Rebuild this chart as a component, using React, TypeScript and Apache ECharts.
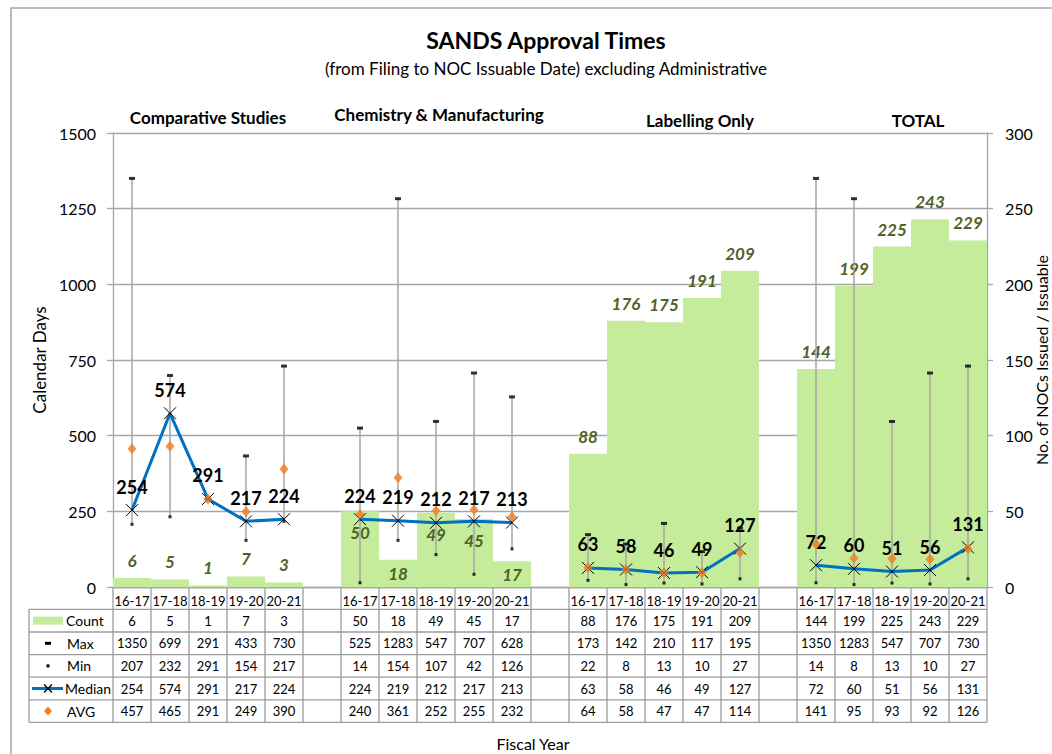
import React, { useEffect, useRef } from 'react';
import * as echarts from 'echarts';

// ---------- data ----------
const FISCAL_YEARS = ['16-17', '17-18', '18-19', '19-20', '20-21'];
const GROUP_NAMES = ['Comparative Studies', 'Chemistry & Manufacturing', 'Labelling Only', 'TOTAL'];

const COUNT_CS = [6, 5, 1, 7, 3];
const COUNT_CM = [50, 18, 49, 45, 17];
const COUNT_LO = [88, 176, 175, 191, 209];
const COUNT_TOT = [144, 199, 225, 243, 229];

const MAX_CS = [1350, 699, 291, 433, 730];
const MAX_CM = [525, 1283, 547, 707, 628];
const MAX_LO = [173, 142, 210, 117, 195];
const MAX_TOT = [1350, 1283, 547, 707, 730];

const MIN_CS = [207, 232, 291, 154, 217];
const MIN_CM = [14, 154, 107, 42, 126];
const MIN_LO = [22, 8, 13, 10, 27];
const MIN_TOT = [14, 8, 13, 10, 27];

const MEDIAN_CS = [254, 574, 291, 217, 224];
const MEDIAN_CM = [224, 219, 212, 217, 213];
const MEDIAN_LO = [63, 58, 46, 49, 127];
const MEDIAN_TOT = [72, 60, 51, 56, 131];

const AVG_CS = [457, 465, 291, 249, 390];
const AVG_CM = [240, 361, 252, 255, 232];
const AVG_LO = [64, 58, 47, 47, 114];
const AVG_TOT = [141, 95, 93, 92, 126];

const LEFT_AXIS = { min: 0, max: 1500, interval: 250 };
const RIGHT_AXIS = { min: 0, max: 300, interval: 50 };

// ---------- helpers ----------
function joinGroups<T>(groups: T[][]): (T | null)[] {
  const out: (T | null)[] = [];
  groups.forEach((g, gi) => {
    if (gi > 0) out.push(null);
    g.forEach((v) => out.push(v));
  });
  return out;
}

const CATEGORIES = joinGroups([FISCAL_YEARS, FISCAL_YEARS, FISCAL_YEARS, FISCAL_YEARS]).map((c) => (c == null ? '' : c));
const COUNT = joinGroups([COUNT_CS, COUNT_CM, COUNT_LO, COUNT_TOT]);
const MAX = joinGroups([MAX_CS, MAX_CM, MAX_LO, MAX_TOT]);
const MIN = joinGroups([MIN_CS, MIN_CM, MIN_LO, MIN_TOT]);
const MEDIAN = joinGroups([MEDIAN_CS, MEDIAN_CM, MEDIAN_LO, MEDIAN_TOT]);
const AVG = joinGroups([AVG_CS, AVG_CM, AVG_LO, AVG_TOT]);

// ---------- layout / style ----------
const FONT = 'Lato, "Open Sans", sans-serif';
const GL = 113;
const GT = 133;
const GW = 874;
const GH = 454;
const NC = CATEGORIES.length;
const CW = GW / NC;
const GRID_LINE = '#A6A6A6';
const TABLE_LINE = '#9C9C9C';
const BAR_COLOR = '#C4EC9B';
const COUNT_LABEL = '#4F6228';
const MEDIAN_COLOR = '#0070C0';
const AVG_COLOR = '#F07D22';
const ROW_TOPS = [609.3, 632, 654.6, 677.2, 699.8, 722.4];
const HEADER_TOP = GT + GH;
const LEG_LEFT = 29;

function txt(text: string, x: number, y: number, font: string, align = 'center', fill = '#000') {
  return {
    type: 'text',
    x,
    y,
    silent: true,
    style: { text, font, fill, align, verticalAlign: 'middle' },
  };
}

function buildOption() {
  const graphics: any[] = [];

  // outer border
  graphics.push({
    type: 'rect',
    shape: { x: 11, y: 8, width: 1100, height: 800 },
    style: { fill: 'none', stroke: '#A6A6A6', lineWidth: 1.5 },
    silent: true,
  });

  // titles
  graphics.push(txt('SANDS Approval Times', 546, 40, `bold 23px ${FONT}`));
  graphics.push(txt('(from Filing to NOC Issuable Date) excluding Administrative', 546, 68, `17px ${FONT}`));

  // group headers
  const groupPos = [
    [208, 117],
    [439, 114],
    [700, 120],
    [918, 120],
  ];
  GROUP_NAMES.forEach((g, i) => graphics.push(txt(g, groupPos[i][0], groupPos[i][1], `bold 17px ${FONT}`)));

  // axis titles drawn as text
  graphics.push(txt('Fiscal Year', 533, 743, `16px ${FONT}`));
  graphics.push({
    ...txt('No. of NOCs Issued / Issuable', 1041, GT + GH / 2, `16px ${FONT}`),
    rotation: Math.PI / 2,
  });

  // table lines
  const tableRight = GL + GW;
  ROW_TOPS.forEach((y) => {
    graphics.push({
      type: 'line',
      silent: true,
      shape: { x1: LEG_LEFT, y1: y, x2: tableRight, y2: y },
      style: { stroke: TABLE_LINE, lineWidth: 1.3 },
    });
  });
  graphics.push({
    type: 'line',
    silent: true,
    shape: { x1: LEG_LEFT, y1: ROW_TOPS[0], x2: LEG_LEFT, y2: ROW_TOPS[5] },
    style: { stroke: TABLE_LINE, lineWidth: 1.3 },
  });
  for (let i = 0; i <= NC; i++) {
    const x = GL + i * CW;
    graphics.push({
      type: 'line',
      silent: true,
      shape: { x1: x, y1: HEADER_TOP, x2: x, y2: ROW_TOPS[5] },
      style: { stroke: TABLE_LINE, lineWidth: 1.3 },
    });
  }

  // legend column
  const rowMid = (r: number) => (ROW_TOPS[r] + ROW_TOPS[r + 1]) / 2;
  const legendFont = `14px ${FONT}`;
  const cx = 48;
  graphics.push({
    type: 'rect',
    silent: true,
    shape: { x: 33, y: rowMid(0) - 4, width: 30, height: 8 },
    style: { fill: BAR_COLOR },
  });
  graphics.push(txt('Count', 66, rowMid(0), legendFont, 'left'));
  graphics.push({
    type: 'rect',
    silent: true,
    shape: { x: cx - 3, y: rowMid(1) - 1.5, width: 6, height: 3 },
    style: { fill: '#000' },
  });
  graphics.push(txt('Max', 67, rowMid(1), legendFont, 'left'));
  graphics.push({
    type: 'rect',
    silent: true,
    shape: { x: cx - 1.5, y: rowMid(2) - 1.5, width: 3, height: 3 },
    style: { fill: '#000' },
  });
  graphics.push(txt('Min', 67, rowMid(2), legendFont, 'left'));
  graphics.push({
    type: 'line',
    silent: true,
    shape: { x1: 32, y1: rowMid(3), x2: 63, y2: rowMid(3) },
    style: { stroke: MEDIAN_COLOR, lineWidth: 3 },
  });
  graphics.push({
    type: 'polyline',
    silent: true,
    shape: { points: [[cx - 4, rowMid(3) - 4], [cx + 4, rowMid(3) + 4]] },
    style: { stroke: '#000', lineWidth: 1.2, fill: 'none' },
  });
  graphics.push({
    type: 'polyline',
    silent: true,
    shape: { points: [[cx + 4, rowMid(3) - 4], [cx - 4, rowMid(3) + 4]] },
    style: { stroke: '#000', lineWidth: 1.2, fill: 'none' },
  });
  graphics.push(txt('Median', 65, rowMid(3), legendFont, 'left'));
  graphics.push({
    type: 'polygon',
    silent: true,
    shape: {
      points: [
        [cx, rowMid(4) - 4.5],
        [cx + 4, rowMid(4)],
        [cx, rowMid(4) + 4.5],
        [cx - 4, rowMid(4)],
      ],
    },
    style: { fill: AVG_COLOR },
  });
  graphics.push(txt('AVG', 67, rowMid(4), legendFont, 'left'));

  // table values
  const rows = [COUNT, MAX, MIN, MEDIAN, AVG];
  const cellFont = `13px ${FONT}`;
  rows.forEach((arr, r) => {
    arr.forEach((v, i) => {
      if (v == null) return;
      graphics.push(txt(String(v), GL + (i + 0.5) * CW, rowMid(r), cellFont));
    });
  });

  // series data
  const countData = COUNT.map((v, i) => {
    if (v == null) return '-';
    const group = Math.floor(i / 6);
    let label: any;
    if (group === 1) {
      label = v >= 30 ? { position: 'insideTop', distance: 13 } : { position: 'inside' };
    } else {
      label = { position: 'top', distance: 9 };
    }
    return { value: v, label };
  });

  const whiskerData: any[] = [];
  MIN.forEach((v, i) => {
    if (v != null && MAX[i] != null) whiskerData.push([i, v, MAX[i]]);
  });

  const axisFont = { fontSize: 16, color: '#000', fontFamily: FONT, formatter: (v: number) => String(v) };

  return {
    animation: false,
    backgroundColor: '#fff',
    textStyle: { fontFamily: FONT },
    grid: { left: GL, top: GT, width: GW, height: GH, containLabel: false, outerBoundsMode: 'none' },
    xAxis: {
      type: 'category',
      data: CATEGORIES,
      boundaryGap: true,
      axisLine: { show: true, lineStyle: { color: GRID_LINE, width: 1.3 } },
      axisTick: { show: false },
      axisLabel: { interval: 0, margin: 7, fontSize: 13, color: '#000', fontFamily: FONT },
      splitLine: { show: false },
    },
    yAxis: [
      {
        type: 'value',
        min: LEFT_AXIS.min,
        max: LEFT_AXIS.max,
        interval: LEFT_AXIS.interval,
        name: 'Calendar Days',
        nameLocation: 'middle',
        nameGap: 64,
        nameRotate: 90,
        nameTextStyle: { fontSize: 17, color: '#000', fontFamily: FONT },
        axisLine: { show: true, lineStyle: { color: GRID_LINE, width: 1.3 } },
        axisTick: { show: true, length: 6, lineStyle: { color: GRID_LINE, width: 1.3 } },
        axisLabel: { margin: 17, ...axisFont },
        splitLine: { show: true, lineStyle: { color: GRID_LINE, width: 1.3 } },
      },
      {
        type: 'value',
        position: 'right',
        min: RIGHT_AXIS.min,
        max: RIGHT_AXIS.max,
        interval: RIGHT_AXIS.interval,
        axisLine: { show: true, lineStyle: { color: GRID_LINE, width: 1.3 } },
        axisTick: { show: true, length: 6, lineStyle: { color: GRID_LINE, width: 1.3 } },
        axisLabel: { margin: 18, ...axisFont },
        splitLine: { show: false },
      },
    ],
    graphic: graphics,
    series: [
      {
        name: 'Count',
        type: 'bar',
        yAxisIndex: 1,
        data: countData,
        barCategoryGap: '0%',
        itemStyle: { color: BAR_COLOR },
        z: 2,
        label: {
          show: true,
          color: COUNT_LABEL,
          fontSize: 17,
          fontWeight: 'bold',
          fontStyle: 'italic',
          fontFamily: FONT,
        },
      },
      {
        name: 'Range',
        type: 'custom',
        yAxisIndex: 0,
        data: whiskerData,
        encode: { x: 0, y: [1, 2] },
        z: 3,
        silent: true,
        renderItem: (params: any, api: any) => {
          const p1 = api.coord([api.value(0), api.value(1)]);
          const p2 = api.coord([api.value(0), api.value(2)]);
          return {
            type: 'line',
            shape: { x1: p1[0], y1: p1[1], x2: p2[0], y2: p2[1] },
            style: { stroke: GRID_LINE, lineWidth: 1.5 },
          };
        },
      },
      {
        name: 'Max',
        type: 'scatter',
        yAxisIndex: 0,
        data: MAX.map((v) => (v == null ? '-' : v)),
        symbol: 'rect',
        symbolSize: [6, 3],
        itemStyle: { color: '#000' },
        z: 4,
      },
      {
        name: 'Min',
        type: 'scatter',
        yAxisIndex: 0,
        data: MIN.map((v) => (v == null ? '-' : v)),
        symbol: 'rect',
        symbolSize: [3, 3],
        itemStyle: { color: '#000' },
        z: 4,
      },
      {
        name: 'Median',
        type: 'line',
        yAxisIndex: 0,
        data: MEDIAN.map((v) => (v == null ? '-' : v)),
        connectNulls: false,
        symbol: 'path://M0,0L10,10M10,0L0,10',
        symbolSize: 12,
        showAllSymbol: true,
        lineStyle: { color: MEDIAN_COLOR, width: 3 },
        itemStyle: { color: '#000', borderColor: '#000', borderWidth: 1 },
        z: 5,
        label: {
          show: true,
          position: 'top',
          distance: 8,
          color: '#000',
          fontSize: 18,
          fontWeight: 'bold',
          fontFamily: FONT,
        },
      },
      {
        name: 'AVG',
        type: 'scatter',
        yAxisIndex: 0,
        data: AVG.map((v) => (v == null ? '-' : v)),
        symbol: 'diamond',
        symbolSize: [9, 11],
        itemStyle: { color: AVG_COLOR },
        z: 6,
      },
    ],
  };
}

export default function App() {
  const ref = useRef<HTMLDivElement>(null);
  useEffect(() => {
    if (!ref.current) return;
    const chart = echarts.init(ref.current, null, { renderer: 'svg' });
    chart.setOption(buildOption() as any);
    return () => chart.dispose();
  }, []);
  return (
    <div
      ref={ref}
      style={{ position: 'fixed', left: 0, top: 0, width: 1052, height: 754, background: '#fff' }}
    />
  );
}
